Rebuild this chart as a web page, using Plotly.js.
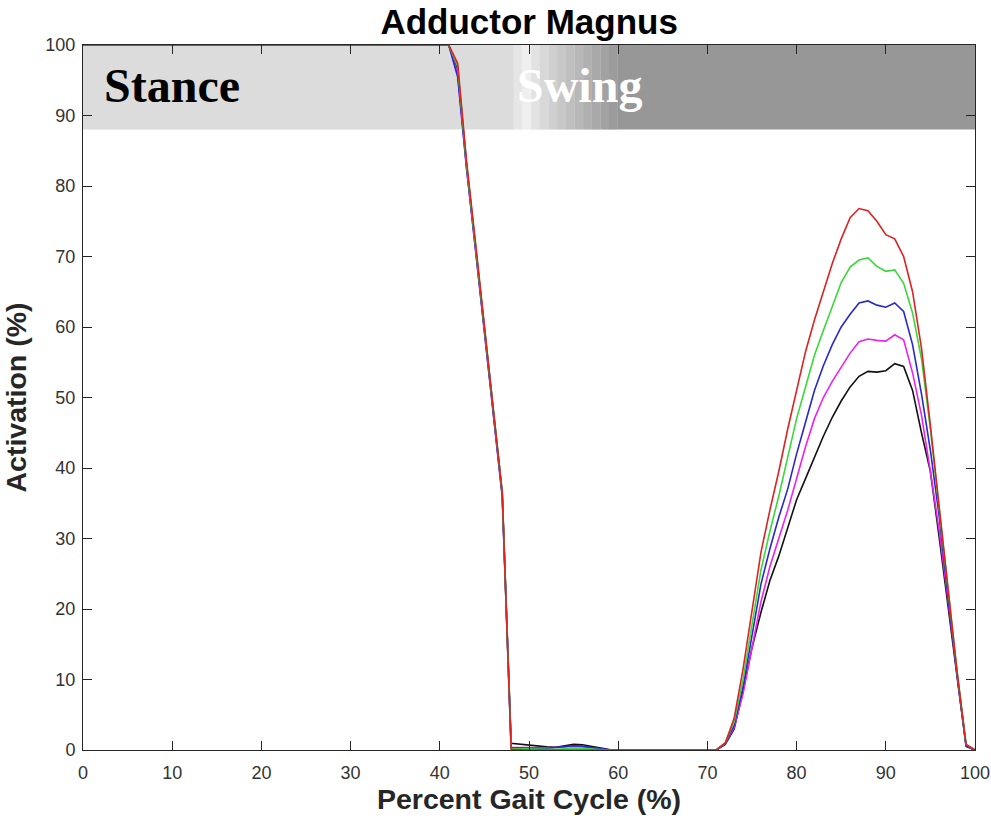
<!DOCTYPE html>
<html>
<head>
<meta charset="utf-8">
<script src="https://cdn.plot.ly/plotly-3.0.1.min.js"></script>
<style>html,body{margin:0;padding:0;background:#fff;}#chart{width:991px;height:819px;}</style>
</head>
<body>
<div id="chart"></div>
<script>
var pct = [0,1,2,3,4,5,6,7,8,9,10,11,12,13,14,15,16,17,18,19,20,21,22,23,24,25,26,27,28,29,30,
31,32,33,34,35,36,37,38,39,40,41,42,43,44,45,46,47,48,49,50,51,52,53,54,55,56,57,58,59,60,
61,62,63,64,65,66,67,68,69,70,71,72,73,74,75,76,77,78,79,80,81,82,83,84,85,86,87,88,89,90,
91,92,93,94,95,96,97,98,99,100];

var stanceFull = [100,100,100,100,100,100,100,100,100,100,100,100,100,100,100,100,100,100,100,100,100,
100,100,100,100,100,100,100,100,100,100,100,100,100,100,100,100,100,100,100,100,100];
var zeros60to71 = [0,0,0,0,0,0,0,0,0,0,0,0];

var blackDrop = [96.5,83,71.5,60,48,36.5];
var blackLow = [0.95,0.8,0.7,0.6,0.45,0.4,0.6,0.8,0.75,0.5,0.25,0.05];
var blackSwing = [0.8,3,8.5,14.5,19.5,24,27.5,31.5,35.5,38.5,41.5,44.5,47.2,49.5,51.5,53,53.7,53.6,53.8,54.8,54.4,51,45,39.5,30,20,10,0.5,0];

var magentaDrop = [96,82.5,71,59.5,47.5,36];
var magentaLow = [0.4,0.35,0.3,0.3,0.3,0.35,0.45,0.5,0.45,0.3,0.1,0];
var magentaSwing = [0.9,3.2,8,14.5,21,26,30,34,38.5,43,47,50,52.3,54.4,56.3,57.9,58.3,58.1,58.0,58.9,58.2,53.5,47.5,39.5,31,21,10.5,0.6,0];

var blueDrop = [95.5,82.5,71,59.5,47.5,36];
var blueLow = [0.3,0.25,0.2,0.2,0.25,0.35,0.5,0.6,0.55,0.35,0.1,0];
var blueSwing = [0.9,3.5,9,16.5,23.5,28.5,33,37,42,46.5,51,54.5,57.5,60,61.8,63.4,63.7,63.1,62.8,63.4,62.2,57.5,50.5,42.5,33,21.5,10.5,0.6,0];

var greenDrop = [97,83,71.5,59.5,48,36.5];
var greenLow = [0.2,0.15,0.1,0.1,0.1,0.1,0.2,0.25,0.2,0.1,0,0];
var greenSwing = [1.0,4,10,18,25.5,31,36,41.5,47,51.5,56,59.5,63,66.3,68.5,69.5,69.8,68.6,67.9,68.1,66.2,62,55.5,45.5,34,22,11,0.8,0];

var redDrop = [97.4,83.5,72,60,48,36.5];
var redLow = [0.1,0,0,0,0,0,0,0,0,0,0,0];
var redSwing = [1.0,4.5,11.5,20,28,34,39.5,45.5,51,56.5,61,65,69,72.5,75.5,76.8,76.5,75,73.1,72.5,70,65,57,46,34,22,11,0.8,0];

var seriesNames = ['black','magenta','blue','green','red'];
var seriesColors = ['#111111','#ee22ee','#2828cc','#3ad83a','#dd2222'];

var xTicks = [0,10,20,30,40,50,60,70,80,90,100];
var yTicks = [0,10,20,30,40,50,60,70,80,90,100];

var bandColors = ['#e6e6e6','#efefef','#e2e2e2','#d8d8d8','#cfcfcf','#c7c7c7','#bfbfbf','#b8b8b8','#b0b0b0','#a9a9a9','#a2a2a2','#9c9c9c'];

function build(drop, low, swing){
  return stanceFull.concat(drop, low, zeros60to71, swing);
}
var allY = [
  build(blackDrop, blackLow, blackSwing),
  build(magentaDrop, magentaLow, magentaSwing),
  build(blueDrop, blueLow, blueSwing),
  build(greenDrop, greenLow, greenSwing),
  build(redDrop, redLow, redSwing)
];

var traces = allY.map(function(y, i){
  return {x: pct, y: y, type: 'scatter', mode: 'lines', name: seriesNames[i],
          line: {color: seriesColors[i], width: 1.6}, showlegend: false, hoverinfo: 'skip'};
});

var shapes = [];
shapes.push({type:'rect', xref:'x', yref:'y', x0:0, x1:48.3, y0:88, y1:100, fillcolor:'#dcdcdc', line:{width:0}, layer:'below'});
var start = 48.3;
for (var i = 0; i < bandColors.length; i++) {
  var x0 = start + i * 0.97;
  shapes.push({type:'rect', xref:'x', yref:'y', x0:x0, x1:x0 + 0.97 + 0.02, y0:88, y1:100, fillcolor:bandColors[i], line:{width:0}, layer:'below'});
}
shapes.push({type:'rect', xref:'x', yref:'y', x0:start + bandColors.length*0.97, x1:100, y0:88, y1:100, fillcolor:'#979797', line:{width:0}, layer:'below'});

var axisCommon = {
  showline: true, linecolor: '#262626', linewidth: 1, mirror: 'ticks',
  ticks: 'inside', ticklen: 9, tickcolor: '#262626', tickwidth: 1,
  showgrid: false, zeroline: false,
  tickfont: {family: 'Liberation Sans, Arial, sans-serif', size: 18, color: '#333333'}
};

var layout = {
  width: 991, height: 819,
  margin: {l: 83, r: 16, t: 45, b: 69},
  paper_bgcolor: '#ffffff', plot_bgcolor: '#ffffff',
  title: {text: '<b>Adductor Magnus</b>', x: 0.534, xanchor: 'center', y: 0.973, yanchor: 'middle',
          font: {family: 'Liberation Sans, Arial, sans-serif', size: 35, color: '#000000'}},
  xaxis: Object.assign({}, axisCommon, {
    range: [0, 100], tickvals: xTicks, ticktext: xTicks.map(String), ticklabelstandoff: 6,
    title: {text: '<b>Percent Gait Cycle (%)</b>', standoff: 6,
            font: {family: 'Liberation Sans, Arial, sans-serif', size: 28.5, color: '#262626'}}
  }),
  yaxis: Object.assign({}, axisCommon, {
    range: [0, 100], tickvals: yTicks, ticktext: yTicks.map(String), ticklabelstandoff: 3,
    title: {text: '<b>Activation (%)</b>', standoff: 10,
            font: {family: 'Liberation Sans, Arial, sans-serif', size: 28.5, color: '#262626'}}
  }),
  shapes: shapes,
  annotations: [
    {text: '<b>Stance</b>', xref: 'x', yref: 'y', x: 2.1, y: 94.2, xanchor: 'left', yanchor: 'middle', showarrow: false,
     font: {family: 'Liberation Serif, Times New Roman, serif', size: 48, color: '#000000'}},
    {text: '<b>Swing</b>', xref: 'x', yref: 'y', x: 48.4, y: 94.2, xanchor: 'left', yanchor: 'middle', showarrow: false,
     font: {family: 'Liberation Serif, Times New Roman, serif', size: 48, color: '#ffffff'}}
  ]
};

Plotly.newPlot('chart', traces, layout, {staticPlot: true, displayModeBar: false});
</script>
</body>
</html>
